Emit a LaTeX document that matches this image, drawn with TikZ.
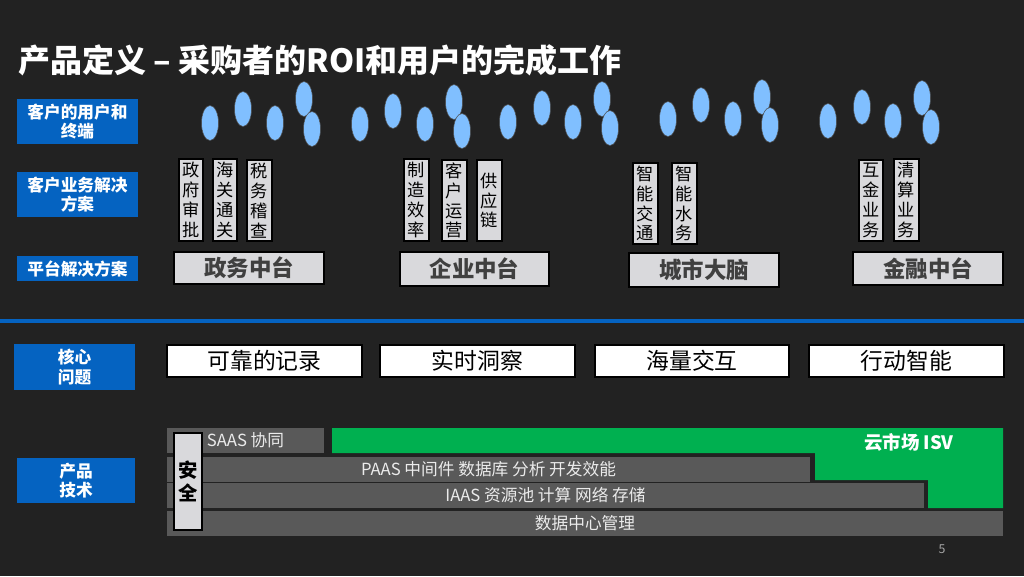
\documentclass[tikz,border=0pt]{standalone}
\usepackage{fontspec}
\setmainfont{Noto Sans CJK SC}
\usetikzlibrary{shapes.geometric}
\definecolor{bg}{HTML}{222222}
\definecolor{lblue}{HTML}{0563C1}
\definecolor{ell}{HTML}{80BFFF}
\definecolor{lgray}{HTML}{D9D9DC}
\definecolor{bar}{HTML}{595959}
\definecolor{grn}{HTML}{00B050}
\definecolor{ptxt}{HTML}{404040}
\newcommand\bx[7]{\node[#6, minimum width={(#4-#2)*0.02cm}, minimum height={(#5-#3)*0.02cm}] (#1) at ({(#2+#4)/2},{(#3+#5)/2}) {#7};}
\tikzset{
  base/.style={inner sep=0pt, outer sep=0pt, rectangle},
  lab/.style={base, fill=lblue, text=white, font=\fontsize{9.5pt}{11pt}\selectfont\bfseries, align=center},
  vbox/.style={base, fill=lgray, draw=black, line width=0.6pt, text=black, font=\fontsize{9.8pt}{11.3pt}\selectfont, align=center},
  pbox/.style={base, fill=lgray, draw=black, line width=0.6pt, text=ptxt, font=\fontsize{12.8pt}{14pt}\selectfont\bfseries},
  cbox/.style={base, fill=white, draw=black, line width=0.6pt, text=black, font=\fontsize{13pt}{14pt}\selectfont},
  barbox/.style={base, fill=bar, text=white!92!black, font=\fontsize{9.5pt}{11pt}\selectfont},
  usr/.style={ellipse, fill=ell, draw=black!70, line width=0.3pt, minimum width=0.34cm, minimum height=0.7cm, inner sep=0pt},
}
\begin{document}
\begin{tikzpicture}[x=0.02cm,y=-0.02cm]
\fill[bg] (0,0) rectangle (1024,576);
\useasboundingbox (0,0) rectangle (1024,576);
% title
\node[anchor=west, text=white, font=\fontsize{18.2pt}{21pt}\selectfont\bfseries, inner sep=0pt] (title) at (18,60) {产品定义 – 采购者的ROI和用户的完成工作};
% separator
\coordinate (sl) at (0,321); \coordinate (sr) at (1024,321);
\draw[lblue, line width=1.8pt] (sl) -- (sr);
% left labels
\bx{L1}{17}{99}{138}{144}{lab}{客户的用户和\\终端}
\bx{L2}{17}{172}{138}{217}{lab}{客户业务解决\\方案}
\bx{L3}{17}{256}{138}{281}{lab}{平台解决方案}
\bx{L4}{14}{344}{135}{390}{lab}{核心\\问题}
\bx{L5}{17}{458}{135}{503}{lab}{产品\\技术}
% users
\foreach \g/\a/\b/\c/\d/\e/\f/\h/\i/\j/\k in {
 1/210/123/243/109/275/123/304/99/312/129,
 2/360/124/393/111/425/124/454/102/462/131,
 3/508/122/542/108/573/122/602/99/610/128,
 4/668/119/701/105/733/119/762/97/770/125,
 5/828/121/862/107/893/121/922/98/931/127}{
  \node[usr] (u\g a) at (\a,\b) {};
  \node[usr] (u\g b) at (\c,\d) {};
  \node[usr] (u\g c) at (\e,\f) {};
  \node[usr] (u\g d) at (\h,\i) {};
  \node[usr] (u\g e) at (\j,\k) {};
}
% business solutions
\bx{v1}{179}{159}{203}{241}{vbox}{政\\府\\审\\批}
\bx{v2}{213}{159}{237}{241}{vbox}{海\\关\\通\\关}
\bx{v3}{247}{160}{272}{241}{vbox}{税\\务\\稽\\查}
\bx{v4}{404}{159}{429}{241}{vbox}{制\\造\\效\\率}
\bx{v5}{442}{160}{467}{241}{vbox}{客\\户\\运\\营}
\bx{v6}{477}{160}{502}{241}{vbox}{供\\应\\链}
\bx{v7}{633}{163}{658}{244}{vbox}{智\\能\\交\\通}
\bx{v8}{672}{163}{697}{244}{vbox}{智\\能\\水\\务}
\bx{v9}{859}{160}{883}{241}{vbox}{互\\金\\业\\务}
\bx{v10}{894}{159}{919}{241}{vbox}{清\\算\\业\\务}
% platforms
\bx{p1}{174}{252}{324}{284}{pbox}{政务中台}
\bx{p2}{400}{252}{549}{286}{pbox}{企业中台}
\bx{p3}{629}{253}{779}{287}{pbox}{城市大脑}
\bx{p4}{853}{252}{1003}{285}{pbox}{金融中台}
% core issues
\bx{c1}{167}{345}{362}{377}{cbox}{可靠的记录}
\bx{c2}{380}{345}{575}{377}{cbox}{实时洞察}
\bx{c3}{595}{345}{789}{377}{cbox}{海量交互}
\bx{c4}{809}{345}{1004}{377}{cbox}{行动智能}
% product tech
\fill[grn] (332,428) -- (1003,428) -- (1003,508) -- (928,508) -- (928,480) -- (815,480) -- (815,453) -- (332,453) -- cycle;
\node[text=white, font=\fontsize{10.5pt}{12pt}\selectfont\bfseries, inner sep=0pt] (isv) at (909,442) {云市场 ISV};
\bx{saas}{167}{428}{324}{453}{barbox}{SAAS 协同}
\bx{paas}{167}{457}{810}{482}{barbox}{PAAS 中间件 数据库 分析 开发效能}
\bx{iaas}{167}{483}{924}{508}{barbox}{IAAS 资源池 计算 网络 存储}
\bx{dc}{167}{511}{1003}{536}{barbox}{数据中心管理}
\bx{sec}{174}{433}{202}{530}{vbox, font=\fontsize{11pt}{13pt}\selectfont\bfseries}{安\\全}
% page number
\node[text=white!65!black, font=\fontsize{7pt}{8pt}\selectfont, inner sep=0pt] (pg) at (942,549) {5};
\end{tikzpicture}
\end{document}
